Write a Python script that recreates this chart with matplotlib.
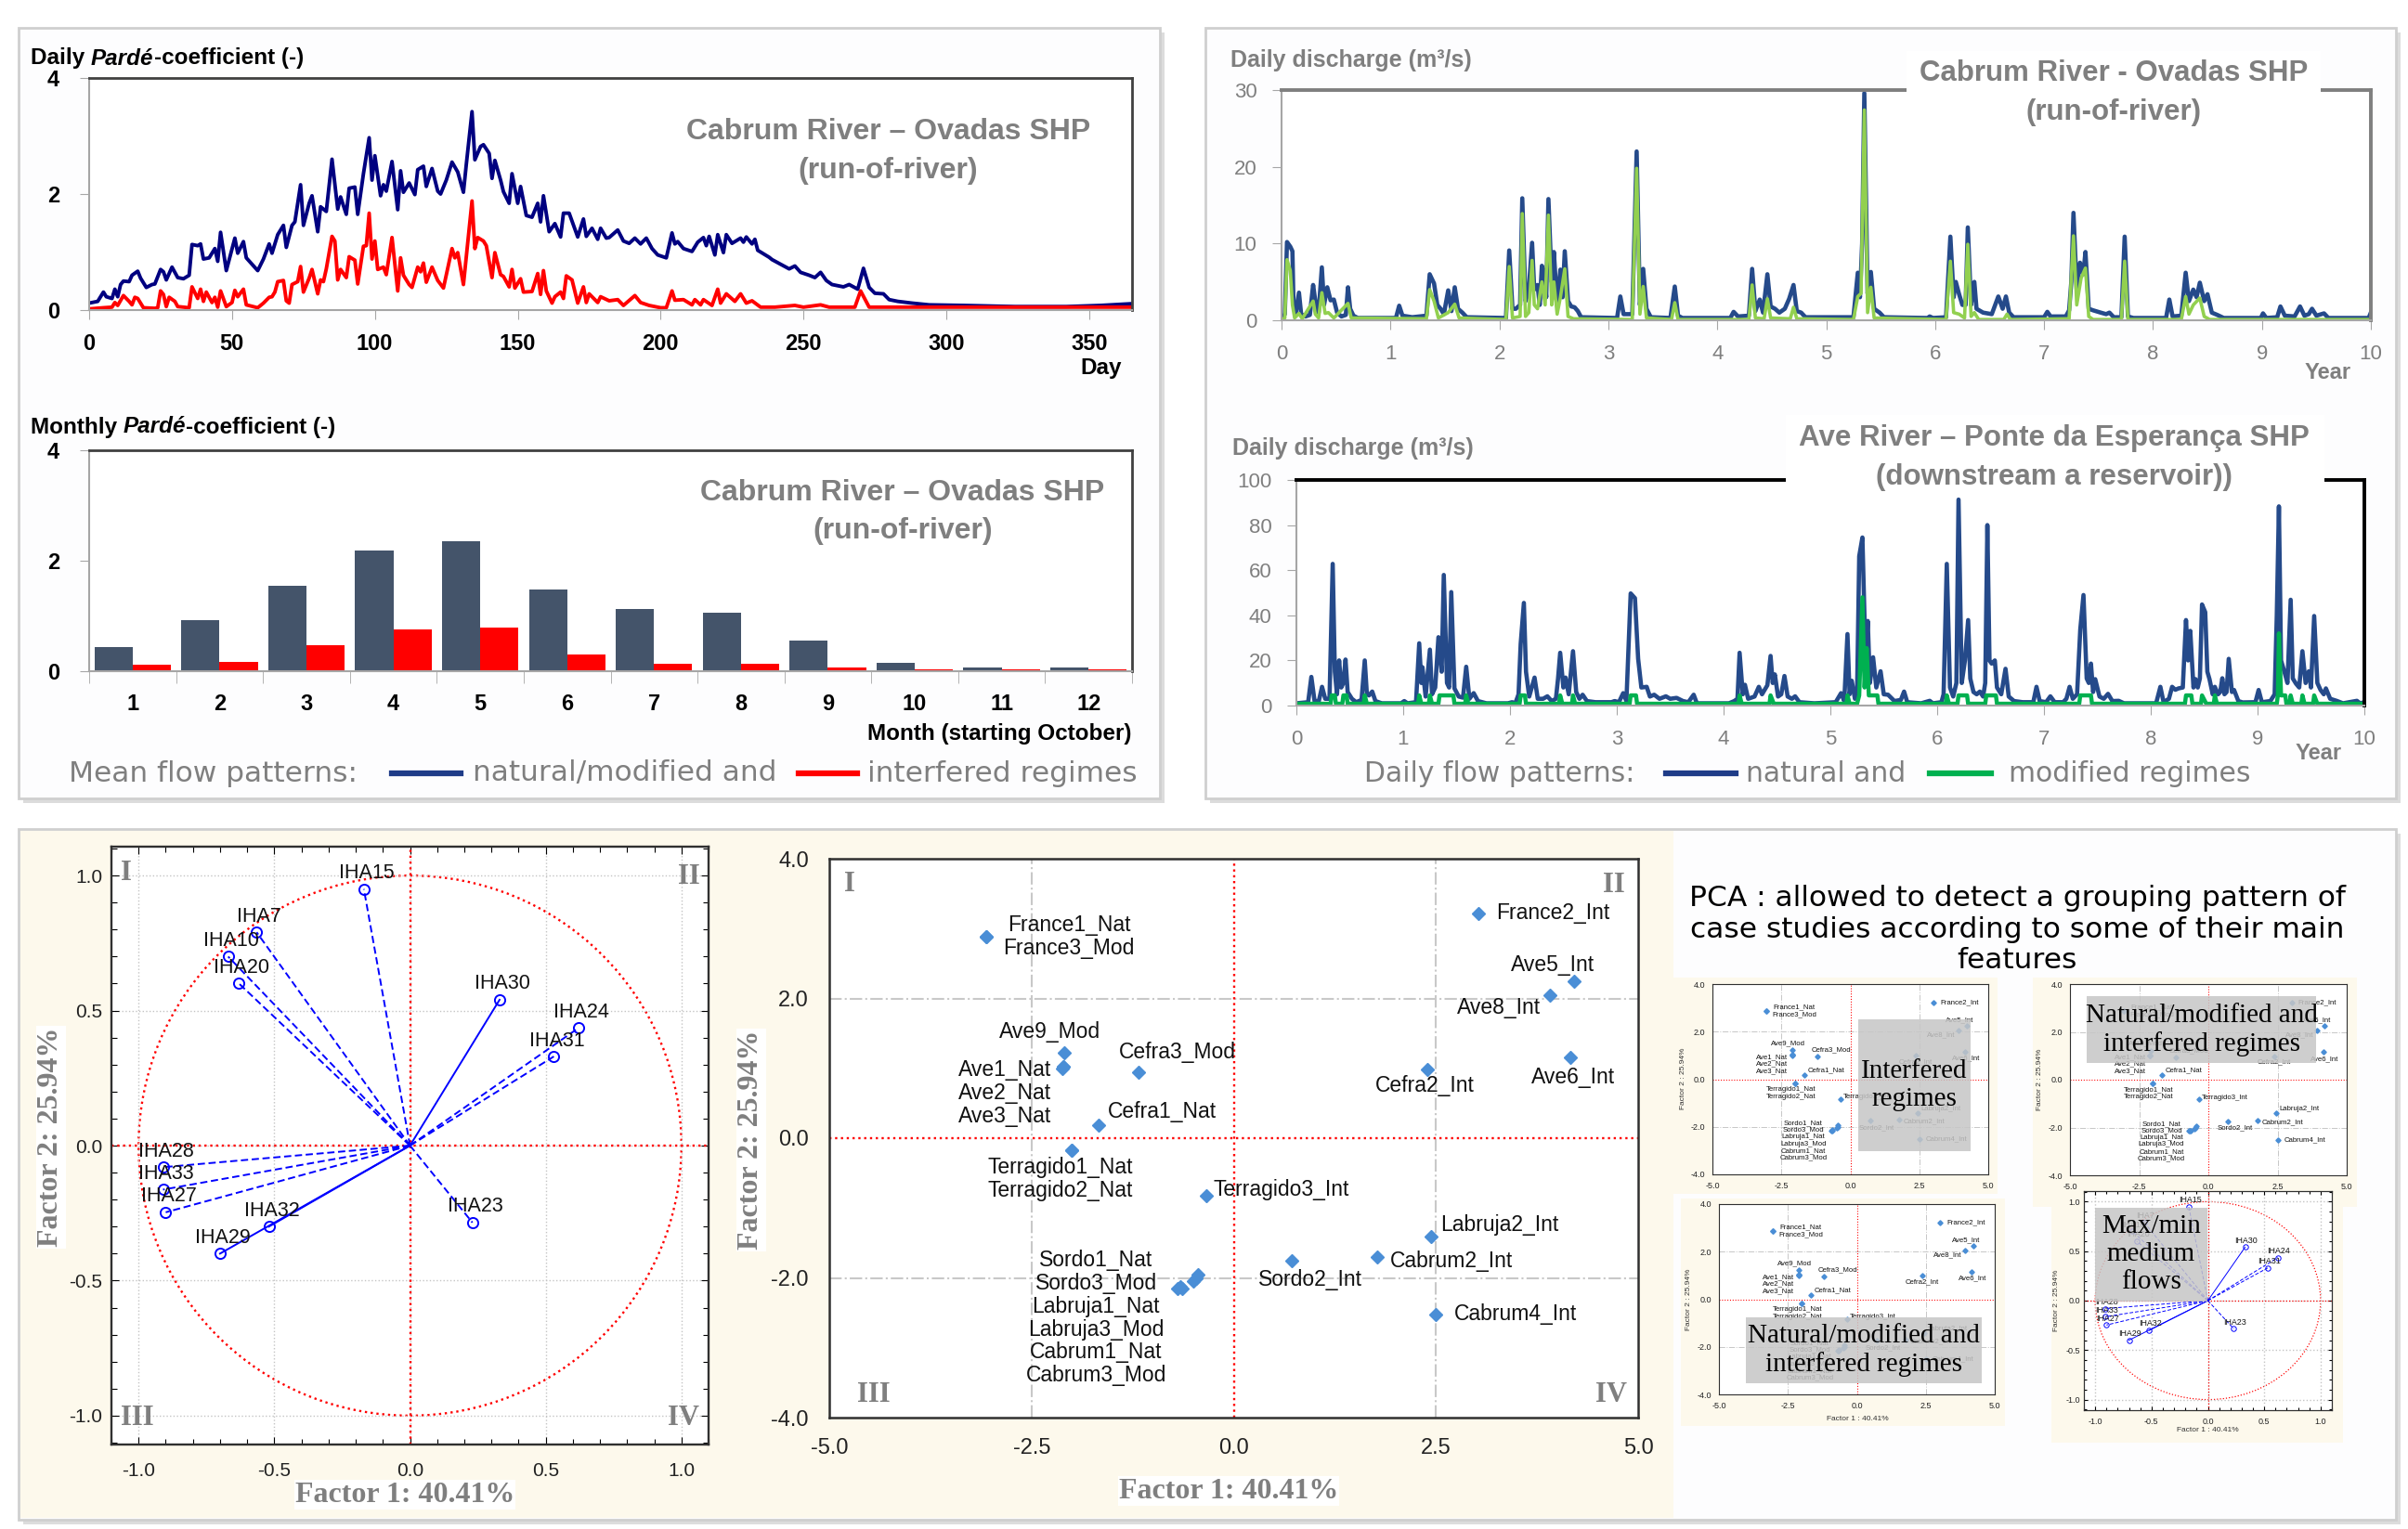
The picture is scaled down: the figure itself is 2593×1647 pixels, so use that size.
import matplotlib.pyplot as plt
from matplotlib.patches import Rectangle, Circle
from matplotlib.lines import Line2D
from matplotlib.ticker import FormatStrFormatter, MultipleLocator
import numpy as np

SANS = ['Liberation Sans', 'DejaVu Sans']
SERIF = ['Liberation Serif', 'DejaVu Serif']
WIDE = ['DejaVu Sans']
plt.rcParams['font.family'] = SANS

# ---------------- data ----------------
# daily Pardé coefficient, Cabrum River, (day, value)
parde_daily_nat = [
    (0, .12), (3, .15), (5, .31), (6, .23), (8, .20), (9, .36), (10, .23), (11, .44), (12, .50), (14, .49),
    (15, .60), (17, .67), (18, .55), (20, .39), (22, .44), (23, .45), (25, .70), (26, .66), (27, .52), (29, .74),
    (31, .56), (33, .54), (35, .60), (36, 1.13), (38, 1.11), (39, 1.14), (40, .88), (42, .90), (44, 1.06), (45, .84),
    (46, 1.34), (48, .68), (51, 1.24), (52, .98), (54, 1.18), (55, .90), (57, .79), (59, .68), (61, .88), (63, 1.14),
    (64, .98), (66, 1.30), (68, 1.46), (69, 1.08), (71, 1.46), (72, 1.52), (74, 2.16), (75, 1.46), (77, 1.84), (78, 1.97),
    (80, 1.35), (81, 1.78), (83, 1.70), (85, 2.60), (87, 1.74), (88, 1.95), (90, 1.65), (91, 2.10), (93, 2.12), (94, 1.65),
    (96, 2.35), (98, 2.97), (99, 2.24), (100, 2.66), (102, 1.97), (103, 2.16), (104, 2.05), (106, 2.56), (108, 1.73), (109, 2.40),
    (110, 2.03), (112, 2.19), (114, 1.99), (115, 2.42), (117, 2.48), (118, 2.13), (120, 2.44), (122, 2.05), (123, 2.00), (125, 2.24),
    (127, 2.55), (129, 2.38), (131, 2.03), (132, 2.51), (134, 3.42), (135, 2.59), (137, 2.82), (138, 2.85), (140, 2.70), (141, 2.27),
    (142, 2.58), (144, 2.24), (145, 2.04), (147, 1.84), (148, 2.35), (150, 1.84), (151, 2.13), (153, 1.63), (155, 1.60), (157, 1.84),
    (158, 1.52), (159, 1.97), (161, 1.35), (163, 1.49), (165, 1.26), (166, 1.67), (168, 1.67), (171, 1.26), (173, 1.57), (174, 1.27),
    (176, 1.41), (178, 1.22), (179, 1.41), (181, 1.24), (182, 1.25), (185, 1.38), (187, 1.19), (189, 1.15), (191, 1.24), (193, 1.14),
    (195, 1.24), (197, 1.06), (199, .95), (202, .90), (204, 1.33), (205, 1.14), (206, 1.18), (208, 1.06), (211, 1.01), (213, 1.17),
    (215, 1.25), (216, 1.11), (217, 1.27), (219, .95), (220, 1.30), (222, .99), (223, 1.30), (225, 1.15), (228, 1.24), (229, 1.17),
    (230, 1.26), (232, 1.14), (233, 1.22), (234, 1.03), (238, .91), (239, .87), (242, .79), (245, .71), (247, .76), (249, .65),
    (252, .60), (254, .56), (256, .65), (258, .51), (260, .44), (264, .40), (266, .44), (269, .36), (271, .72), (273, .39),
    (275, .29), (278, .28), (280, .18), (283, .15), (288, .12), (294, .09), (306, .08), (324, .06), (342, .06), (354, .08),
    (365, .11)]
parde_daily_int = [
    (0, .02), (5, .04), (8, .05), (9, .13), (10, .08), (12, .25), (14, .15), (15, .09), (16, .22), (17, .20),
    (19, .04), (23, .03), (24, .04), (25, .33), (26, .27), (27, .06), (28, .22), (30, .15), (31, .06), (35, .04),
    (36, .40), (38, .20), (39, .36), (40, .15), (41, .31), (43, .13), (44, .22), (45, .05), (46, .33), (48, .06),
    (50, .13), (51, .34), (52, .23), (54, .36), (55, .09), (59, .04), (61, .12), (63, .22), (64, .23), (65, .31),
    (66, .49), (68, .51), (69, .16), (70, .12), (71, .44), (73, .49), (74, .75), (75, .31), (77, .55), (78, .70),
    (80, .28), (81, .52), (82, .49), (83, .71), (85, 1.27), (86, 1.19), (87, .52), (88, .70), (90, .56), (91, .92),
    (93, .86), (94, .45), (96, 1.10), (97, 1.11), (98, 1.67), (99, .88), (100, 1.19), (101, .70), (103, .74), (104, .61),
    (106, 1.25), (108, .33), (109, .90), (110, .60), (112, .44), (113, .39), (115, .74), (116, .66), (117, .81), (118, .48),
    (120, .74), (122, .51), (124, .38), (127, 1.06), (128, .90), (129, .99), (131, .44), (132, .92), (134, 1.88), (135, 1.06),
    (136, 1.25), (138, 1.19), (139, 1.11), (141, .56), (142, .99), (144, .61), (145, .58), (147, .40), (148, .70), (149, .38),
    (151, .54), (152, .31), (155, .32), (157, .63), (158, .27), (159, .68), (160, .33), (162, .12), (163, .23), (165, .31),
    (166, .20), (167, .59), (169, .52), (171, .12), (173, .40), (174, .13), (175, .28), (178, .13), (179, .23), (182, .16),
    (185, .18), (187, .08), (191, .25), (193, .13), (196, .08), (200, .04), (202, .04), (204, .33), (205, .17), (208, .18),
    (211, .09), (212, .18), (214, .09), (215, .18), (218, .08), (220, .36), (221, .12), (223, .28), (226, .15), (228, .28),
    (230, .12), (232, .16), (235, .05), (240, .05), (247, .08), (250, .05), (256, .09), (259, .05), (268, .05), (270, .33),
    (273, .05), (288, .05), (365, .05)]

months = [1, 2, 3, 4, 5, 6, 7, 8, 9, 10, 11, 12]
parde_month_nat = [0.43, 0.92, 1.54, 2.19, 2.35, 1.48, 1.13, 1.06, 0.55, 0.15, 0.07, 0.07]
parde_month_int = [0.11, 0.17, 0.47, 0.76, 0.79, 0.31, 0.14, 0.13, 0.07, 0.03, 0.03, 0.03]

# daily discharge (year, m3/s)
cabrum_nat = [
    (0.00, .3), (0.03, .8), (0.05, 10.2), (0.08, 9.6), (0.10, 9.0), (0.11, 2.0), (0.13, .9), (0.16, 3.6), (0.18, .8), (0.22, .5),
    (0.26, .7), (0.29, 4.6), (0.31, 2.5), (0.34, 1.0), (0.37, 6.9), (0.39, 2.0), (0.42, 4.3), (0.45, 2.6), (0.48, 2.7), (0.51, 1.0),
    (0.55, .5), (0.59, .7), (0.61, 4.3), (0.63, 1.5), (0.66, .6), (0.70, .3), (1.05, .3), (1.08, 1.9), (1.11, .6), (1.20, .4),
    (1.33, .6), (1.36, 6.0), (1.40, 4.8), (1.43, 2.0), (1.46, 1.5), (1.49, .8), (1.53, 3.9), (1.56, 1.2), (1.59, 4.3), (1.62, 1.5),
    (1.66, 1.0), (1.70, .4), (2.06, .3), (2.09, 9.1), (2.12, 1.5), (2.15, 1.5), (2.19, 2.0), (2.21, 15.9), (2.24, 2.5), (2.27, 4.0),
    (2.30, 10.1), (2.32, 4.0), (2.35, 4.6), (2.37, 2.0), (2.39, 7.1), (2.41, 6.0), (2.43, 3.0), (2.45, 15.8), (2.48, 5.0), (2.50, 8.9),
    (2.53, 2.0), (2.56, 6.6), (2.58, 3.0), (2.60, 9.0), (2.63, 2.5), (2.66, 1.8), (2.69, 1.7), (2.72, 1.2), (2.75, .4), (3.08, .3),
    (3.11, 3.1), (3.14, .8), (3.22, .8), (3.26, 22.0), (3.29, 2.0), (3.32, 6.7), (3.35, 1.5), (3.39, .4), (3.57, .3), (3.61, 4.4),
    (3.64, .6), (3.68, .3), (4.12, .3), (4.15, 1.1), (4.19, .5), (4.29, .6), (4.32, 6.7), (4.35, 1.2), (4.39, 2.7), (4.42, 1.0),
    (4.46, 6.0), (4.49, 1.8), (4.53, 1.5), (4.57, 1.0), (4.62, 1.5), (4.66, 2.8), (4.70, 4.6), (4.73, 1.2), (4.77, 1.0), (4.81, .4),
    (5.25, .4), (5.29, 6.2), (5.31, 3.0), (5.33, 10.0), (5.35, 29.6), (5.38, 3.5), (5.41, 6.3), (5.44, 1.5), (5.49, 1.0), (5.53, .4),
    (5.93, .3), (5.95, .5), (5.98, .3), (6.10, .4), (6.14, 10.9), (6.17, 3.0), (6.19, 5.0), (6.22, 3.4), (6.25, 2.0), (6.28, 2.0),
    (6.30, 12.1), (6.33, 2.0), (6.36, 5.0), (6.38, 1.5), (6.44, 1.0), (6.52, .8), (6.58, 3.1), (6.62, 1.5), (6.65, 3.1), (6.68, 1.0),
    (6.72, .4), (7.00, .4), (7.03, 1.1), (7.06, .5), (7.20, .5), (7.23, 1.3), (7.25, 5.0), (7.27, 14.0), (7.30, 4.0), (7.33, 7.5),
    (7.36, 6.0), (7.38, 8.9), (7.41, 1.5), (7.45, 1.3), (7.52, 1.0), (7.57, .8), (7.60, 1.0), (7.64, .4), (7.71, .4), (7.74, 10.9),
    (7.77, .5), (7.82, .3), (8.12, .3), (8.15, 2.7), (8.18, .5), (8.26, .6), (8.30, 6.2), (8.33, 2.5), (8.37, 4.0), (8.40, 3.0),
    (8.43, 4.9), (8.47, 2.5), (8.50, 3.4), (8.54, 1.0), (8.59, .7), (8.65, .3), (8.99, .3), (9.01, .9), (9.04, .3), (9.14, .4),
    (9.17, 1.8), (9.21, .6), (9.30, .5), (9.35, 1.8), (9.39, .6), (9.43, .8), (9.46, 1.5), (9.50, .6), (9.57, .9), (9.61, .3),
    (9.98, .3), (10.0, 1.0)]
cabrum_mod = [
    (0.00, .1), (0.03, .3), (0.05, 7.9), (0.08, 6.5), (0.10, 2.0), (0.12, .3), (0.16, .9), (0.19, .2), (0.29, 2.5), (0.31, .8),
    (0.34, .3), (0.37, 3.6), (0.40, .9), (0.43, 1.0), (0.48, .3), (0.61, 2.2), (0.64, .3), (1.33, .2), (1.36, 4.0), (1.40, 2.5),
    (1.44, .3), (1.53, 1.0), (1.59, 2.1), (1.63, .3), (2.06, .1), (2.09, 7.0), (2.12, .3), (2.19, .5), (2.21, 13.9), (2.24, .5),
    (2.27, 1.0), (2.30, 7.8), (2.32, 2.0), (2.35, 1.5), (2.39, 5.0), (2.42, 2.0), (2.45, 13.7), (2.48, 2.0), (2.50, 5.0), (2.53, .8),
    (2.56, 3.0), (2.60, 6.7), (2.63, .5), (2.68, .2), (3.22, .1), (3.26, 19.8), (3.29, .8), (3.32, 4.4), (3.35, .3), (3.58, .1),
    (3.61, 2.3), (3.64, .1), (4.29, .1), (4.32, 4.6), (4.35, .3), (4.43, .2), (4.46, 2.8), (4.49, .3), (4.67, .2), (4.70, 1.7),
    (4.73, .2), (5.25, .1), (5.29, 3.1), (5.32, 3.5), (5.35, 27.4), (5.38, 1.0), (5.41, 4.3), (5.44, .3), (6.10, .1), (6.14, 7.7),
    (6.17, 1.0), (6.22, .8), (6.27, .3), (6.30, 9.9), (6.33, .5), (6.36, 1.0), (6.40, .1), (6.63, .1), (6.66, .8), (6.69, .1),
    (7.23, .2), (7.27, 11.0), (7.30, 2.0), (7.34, 5.5), (7.38, 6.8), (7.41, .5), (7.45, .1), (7.71, .1), (7.74, 7.7), (7.77, .1),
    (8.26, .1), (8.30, 3.1), (8.33, .8), (8.37, 2.0), (8.43, 2.9), (8.47, .5), (8.52, .1), (10.0, .1)]
ave_nat = [
    (0.00, 1.0), (0.11, 1.5), (0.14, 12.7), (0.17, 2.0), (0.21, 2.0), (0.24, 8.3), (0.27, 3.0), (0.31, 3.0), (0.34, 62.8), (0.36, 15.0),
    (0.38, 5.0), (0.40, 20.0), (0.42, 8.0), (0.44, 10.0), (0.46, 20.4), (0.48, 6.0), (0.52, 3.0), (0.56, 1.5), (0.61, 2.5), (0.64, 20.0),
    (0.66, 5.0), (0.68, 4.5), (0.71, 6.2), (0.74, 2.0), (0.80, 1.0), (0.98, 1.0), (1.01, 2.0), (1.04, 1.0), (1.12, 1.5), (1.15, 27.6),
    (1.17, 10.0), (1.18, 17.0), (1.21, 4.0), (1.25, 24.8), (1.27, 5.0), (1.30, 8.0), (1.33, 30.3), (1.36, 15.0), (1.38, 57.9), (1.41, 10.0),
    (1.43, 8.0), (1.45, 50.3), (1.48, 7.6), (1.52, 4.0), (1.56, 3.5), (1.59, 17.2), (1.62, 3.0), (1.66, 5.5), (1.70, 2.0), (1.78, 1.0),
    (1.98, 1.0), (2.02, 1.5), (2.05, 1.0), (2.08, 5.0), (2.10, 27.3), (2.13, 45.5), (2.15, 15.0), (2.18, 4.0), (2.23, 12.4), (2.26, 3.0),
    (2.31, 3.0), (2.35, 4.1), (2.39, 2.0), (2.43, 3.0), (2.45, 12.0), (2.47, 23.4), (2.50, 8.0), (2.52, 12.4), (2.55, 5.0), (2.59, 24.1),
    (2.62, 6.0), (2.65, 3.0), (2.68, 4.8), (2.72, 2.0), (2.80, 1.5), (2.95, 1.5), (2.98, 2.0), (3.02, 1.5), (3.06, 5.5), (3.09, 2.0),
    (3.13, 49.7), (3.17, 47.6), (3.20, 20.7), (3.23, 8.0), (3.28, 8.3), (3.31, 4.0), (3.35, 4.8), (3.40, 3.0), (3.46, 4.1), (3.50, 3.0),
    (3.56, 3.4), (3.62, 2.0), (3.67, 1.5), (3.72, 4.8), (3.75, 1.0), (4.05, 1.0), (4.10, 2.0), (4.13, 3.0), (4.15, 23.4), (4.18, 5.0),
    (4.20, 9.2), (4.23, 3.0), (4.29, 4.0), (4.33, 8.3), (4.36, 5.0), (4.41, 9.0), (4.44, 22.0), (4.46, 10.0), (4.48, 13.8), (4.51, 4.0),
    (4.54, 5.0), (4.57, 13.1), (4.60, 4.0), (4.64, 3.0), (4.67, 4.1), (4.71, 1.5), (4.85, 1.0), (5.05, 1.5), (5.10, 5.5), (5.13, 2.0),
    (5.16, 31.7), (5.18, 5.0), (5.20, 11.0), (5.23, 3.0), (5.25, 6.0), (5.27, 66.2), (5.30, 74.5), (5.33, 20.0), (5.35, 37.5), (5.37, 10.0),
    (5.40, 21.4), (5.43, 8.0), (5.47, 15.2), (5.50, 5.0), (5.54, 4.8), (5.60, 2.0), (5.66, 2.5), (5.69, 6.2), (5.72, 1.5), (5.85, 1.0),
    (5.93, 2.1), (5.96, 1.0), (6.04, 1.5), (6.06, 5.0), (6.09, 62.8), (6.12, 8.0), (6.15, 4.0), (6.18, 10.0), (6.20, 91.3), (6.23, 10.0),
    (6.26, 20.0), (6.29, 37.9), (6.31, 12.0), (6.34, 6.0), (6.37, 5.0), (6.40, 6.2), (6.43, 4.0), (6.45, 10.0), (6.47, 80.0), (6.49, 20.0),
    (6.51, 18.6), (6.54, 20.0), (6.56, 8.0), (6.60, 5.0), (6.64, 16.3), (6.67, 4.0), (6.72, 2.0), (6.80, 1.5), (6.90, 1.5), (6.93, 8.3),
    (6.96, 2.0), (7.02, 1.5), (7.06, 4.1), (7.10, 1.5), (7.18, 1.5), (7.21, 3.0), (7.24, 8.3), (7.27, 3.0), (7.31, 5.0), (7.34, 33.8),
    (7.37, 49.0), (7.40, 12.0), (7.42, 10.0), (7.44, 18.6), (7.46, 6.0), (7.48, 11.7), (7.52, 4.0), (7.56, 3.0), (7.60, 5.2), (7.64, 2.0),
    (7.70, 2.1), (7.75, 1.0), (8.05, 1.0), (8.09, 8.3), (8.12, 1.5), (8.17, 3.0), (8.20, 8.3), (8.23, 7.0), (8.26, 7.6), (8.30, 8.0),
    (8.33, 37.9), (8.35, 20.0), (8.37, 33.1), (8.40, 8.0), (8.42, 11.7), (8.44, 8.0), (8.46, 12.0), (8.48, 44.8), (8.51, 41.4), (8.53, 15.0),
    (8.55, 11.7), (8.58, 5.0), (8.60, 8.3), (8.63, 5.0), (8.65, 6.0), (8.67, 12.1), (8.69, 5.0), (8.71, 6.0), (8.73, 20.7), (8.76, 6.0),
    (8.78, 6.9), (8.82, 2.0), (8.86, 1.4), (8.98, 1.5), (9.01, 6.9), (9.04, 1.5), (9.12, 2.0), (9.16, 5.0), (9.18, 40.0), (9.20, 88.3),
    (9.22, 20.0), (9.25, 15.2), (9.28, 10.0), (9.31, 46.9), (9.33, 12.0), (9.36, 9.7), (9.39, 8.0), (9.42, 24.1), (9.45, 10.0), (9.48, 15.2),
    (9.50, 8.0), (9.53, 39.7), (9.56, 10.0), (9.59, 6.9), (9.62, 5.0), (9.64, 7.6), (9.68, 3.0), (9.74, 2.1), (9.80, 1.0), (9.93, 2.1),
    (9.96, 1.0), (10.0, 1.5)]
ave_mod = [
    (0.00, .8), (0.32, .8), (0.33, 4.5), (0.36, 4.5), (0.37, .8), (0.43, .8), (0.44, 4.5), (0.47, 4.5), (0.48, .8), (0.63, .8),
    (0.64, 4.5), (0.66, .8), (1.14, .8), (1.15, 4.5), (1.17, .8), (1.24, .8), (1.25, 4.5), (1.27, .8), (1.33, .8), (1.34, 4.5),
    (1.47, 4.5), (1.48, .8), (1.58, .8), (1.59, 4.5), (1.61, .8), (2.09, .8), (2.10, 4.5), (2.14, 4.5), (2.15, .8), (2.46, .8),
    (2.47, 4.5), (2.49, .8), (2.58, .8), (2.59, 4.5), (2.61, .8), (3.12, .8), (3.13, 4.5), (3.18, 4.5), (3.19, .8), (4.14, .8),
    (4.15, 4.5), (4.17, .8), (4.43, .8), (4.44, 4.5), (4.47, .8), (5.15, .8), (5.16, 4.5), (5.18, .8), (5.25, .8), (5.27, 4.5),
    (5.30, 48.0), (5.32, 8.0), (5.34, 25.5), (5.36, 4.5), (5.44, 4.5), (5.45, .8), (6.08, .8), (6.09, 4.5), (6.11, .8), (6.19, .8),
    (6.20, 4.5), (6.28, 4.5), (6.29, .8), (6.45, .8), (6.46, 4.5), (6.55, 4.5), (6.56, .8), (7.33, .8), (7.34, 4.5), (7.44, 4.5),
    (7.45, .8), (8.32, .8), (8.33, 4.5), (8.38, 4.5), (8.39, .8), (8.47, .8), (8.48, 4.5), (8.52, .8), (8.59, .8), (8.60, 4.5),
    (8.62, .8), (9.18, .8), (9.19, 4.5), (9.20, 32.0), (9.22, 4.5), (9.26, 4.5), (9.27, .8), (9.30, .8), (9.31, 4.5), (9.33, .8),
    (9.41, .8), (9.42, 4.5), (9.44, .8), (9.52, .8), (9.53, 4.5), (9.56, .8), (10.0, .8)]

# PCA loadings
iha_names = ['IHA15', 'IHA7', 'IHA10', 'IHA20', 'IHA30', 'IHA24', 'IHA31',
             'IHA28', 'IHA33', 'IHA27', 'IHA32', 'IHA29', 'IHA23']
load_f1 = [-0.17, -0.565, -0.67, -0.63, 0.33, 0.62, 0.53, -0.91, -0.91, -0.90, -0.52, -0.70, 0.23]
load_f2 = [0.95, 0.79, 0.70, 0.60, 0.54, 0.435, 0.33, -0.08, -0.163, -0.247, -0.30, -0.40, -0.285]

# PCA scores of the case studies
case_names = ['France1_Nat', 'France3_Mod', 'France2_Int', 'Ave5_Int', 'Ave8_Int', 'Ave6_Int', 'Cefra2_Int',
              'Ave9_Mod', 'Ave1_Nat', 'Ave2_Nat', 'Ave3_Nat', 'Cefra3_Mod', 'Cefra1_Nat', 'Terragido1_Nat',
              'Terragido2_Nat', 'Terragido3_Int', 'Labruja2_Int', 'Cabrum2_Int', 'Sordo2_Int', 'Cabrum4_Int',
              'Sordo1_Nat', 'Sordo3_Mod', 'Labruja1_Nat', 'Labruja3_Mod', 'Cabrum1_Nat', 'Cabrum3_Mod']
score_f1 = [-3.06, -3.06, 3.03, 4.21, 3.91, 4.16, 2.39, -2.09, -2.11, -2.11, -2.12, -1.18, -1.67, -2.00,
            -2.00, -0.34, 2.44, 1.77, 0.72, 2.50, -0.44, -0.50, -0.64, -0.70, -0.47, -0.66]
score_f2 = [2.88, 2.88, 3.22, 2.24, 2.04, 1.15, 0.985, 1.22, 1.02, 1.02, 1.00, 0.95, 0.18, -0.17,
            -0.17, -0.82, -1.41, -1.70, -1.75, -2.52, -1.95, -2.04, -2.15, -2.15, -2.00, -2.12]

# ---------------- figure ----------------
W, H = 2593, 1647
fig = plt.figure(figsize=(W / 100, H / 100), dpi=100)
fig.patch.set_facecolor('white')


def box(l, t, r, b):
    return [l / W, 1 - b / H, (r - l) / W, (b - t) / H]


def ftext(x, y, s, **kw):
    return fig.text(x / W, 1 - y / H, s, **kw)


def frect(l, t, r, b, z=-5, **kw):
    fig.add_artist(Rectangle((l / W, 1 - b / H), (r - l) / W, (b - t) / H,
                             transform=fig.transFigure, zorder=z, **kw))


def fline(x1, x2, y, **kw):
    fig.add_artist(Line2D([x1 / W, x2 / W], [1 - y / H, 1 - y / H], transform=fig.transFigure, **kw))


# panel frames
for l, t, r, b in [(20, 30, 1249, 860), (1298, 30, 2580, 860), (20, 893, 2580, 1637)]:
    frect(l + 5, t + 5, r + 5, b + 5, z=-6, fc='#dcdcdc', ec='none')
    frect(l, t, r, b, fc='#fdfdfe', ec='#cfcfcf', lw=2)
frect(22, 895, 1802, 1635, z=-4, fc='#fdf9ec', ec='none')

GRAY = '#7f7f7f'
NAVY = '#000080'
RED = '#ff0000'
QBLUE = '#254a8a'


def rich_label(ax, x, y, parts, size, color):
    t = ftext(x, y, parts[0][0], fontsize=size, color=color, fontweight='bold',
              fontstyle=parts[0][1], ha='left', va='center')
    for s, st in parts[1:]:
        t = ax.annotate(s, xy=(1, 0), xycoords=t, ha='left', va='bottom', fontsize=size,
                        color=color, fontweight='bold', fontstyle=st, annotation_clip=False)


def style_top_left(ax):
    for k in ('top', 'right'):
        ax.spines[k].set_color('#404040')
        ax.spines[k].set_linewidth(2)
    for k in ('left', 'bottom'):
        ax.spines[k].set_color('#a6a6a6')
        ax.spines[k].set_linewidth(1.5)
    ax.set_facecolor('white')


TITLE = dict(ha='center', va='center', fontsize=23, fontweight='bold', color=GRAY, linespacing=1.5)

# --- daily Pardé coefficient ---
ax1 = fig.add_axes(box(96, 84, 1219, 334))
d_nat, v_nat = zip(*parde_daily_nat)
d_int, v_int = zip(*parde_daily_int)
ax1.plot(d_nat, v_nat, color=NAVY, lw=2.8, solid_joinstyle='round')
ax1.plot(d_int, v_int, color=RED, lw=2.8, solid_joinstyle='round')
ax1.set_xlim(0, 365)
ax1.set_ylim(0, 4)
ax1.set_xticks(range(0, 351, 50), labels=[str(v) for v in range(0, 351, 50)], fontweight='bold', fontsize=17)
ax1.set_yticks([0, 2, 4], labels=['0', '2', '4'], fontweight='bold', fontsize=17)
ax1.tick_params(axis='x', length=7, color='#a6a6a6', pad=11)
ax1.tick_params(axis='y', length=7, color='#a6a6a6', pad=16)
style_top_left(ax1)
rich_label(ax1, 33, 63, [('Daily ', 'normal'), ('Pardé', 'italic'), ('-coefficient (-)', 'normal')], 17.5, 'black')
ftext(1186, 397, 'Day', fontsize=17.5, fontweight='bold', ha='center', va='center')
ax1.text(0.766, 0.684, 'Cabrum River \u2013 Ovadas SHP\n(run-of-river)', transform=ax1.transAxes, **TITLE)

# --- monthly Pardé coefficient ---
ax2 = fig.add_axes(box(96, 485, 1219, 723))
mx = np.array(months)
ax2.bar(mx - 0.22, parde_month_nat, width=0.44, color='#44546a')
ax2.bar(mx + 0.22, parde_month_int, width=0.44, color=RED)
ax2.set_xlim(0.5, 12.5)
ax2.set_ylim(0, 4)
ax2.set_xticks(months, labels=[str(m) for m in months], fontweight='bold', fontsize=17)
ax2.set_xticks(np.arange(0.5, 12.6, 1), minor=True)
ax2.tick_params(axis='x', which='major', length=0, pad=17)
ax2.tick_params(axis='x', which='minor', length=9, color='#a6a6a6')
ax2.set_yticks([0, 2, 4], labels=['0', '2', '4'], fontweight='bold', fontsize=17)
ax2.tick_params(axis='y', length=7, color='#a6a6a6', pad=16)
style_top_left(ax2)
rich_label(ax2, 33, 460, [('Monthly ', 'normal'), ('Pardé', 'italic'), ('-coefficient (-)', 'normal')], 17.5, 'black')
ftext(1219, 790, 'Month (starting October)', fontsize=17.5, fontweight='bold', ha='right', va='center')
ax2.text(0.78, 0.72, 'Cabrum River \u2013 Ovadas SHP\n(run-of-river)', transform=ax2.transAxes, **TITLE)

# legend row, left
LEG = dict(fontsize=22.5, color=GRAY, family=WIDE, va='center')
ftext(74, 833, 'Mean flow patterns:', **LEG)
fline(422, 496, 833, color='#1f3c88', lw=4.5)
ftext(509, 833, 'natural/modified and', **LEG)
fline(860, 923, 833, color=RED, lw=4.5)
ftext(934, 833, 'interfered regimes', **LEG)


def style_q(ax, edge):
    for k in ('top', 'right'):
        ax.spines[k].set_color(edge)
        ax.spines[k].set_linewidth(2.8)
    for k in ('left', 'bottom'):
        ax.spines[k].set_color('#a6a6a6')
        ax.spines[k].set_linewidth(1.5)
    ax.tick_params(length=7, color='#a6a6a6', labelsize=16, labelcolor=GRAY)
    ax.tick_params(axis='x', pad=12)
    ax.tick_params(axis='y', pad=12)


# --- Cabrum daily discharge ---
ax3 = fig.add_axes(box(1380, 97, 2553, 345))
t, q = zip(*cabrum_nat)
ax3.plot(t, q, color=QBLUE, lw=3.3)
t, q = zip(*cabrum_mod)
ax3.plot(t, q, color='#92d050', lw=2.6)
ax3.set_xlim(0, 10)
ax3.set_ylim(0, 30)
ax3.set_xticks(range(0, 11))
ax3.set_yticks([0, 10, 20, 30])
style_q(ax3, '#7f7f7f')
ftext(1325, 65, 'Daily discharge (m\u00b3/s)', fontsize=18, fontweight='bold', color=GRAY, va='center')
ftext(2507, 402, 'Year', fontsize=17, fontweight='bold', color=GRAY, ha='center', va='center')
frect(2053, 55, 2499, 140, z=5, fc='white', ec='none')
ftext(2276, 100, 'Cabrum River - Ovadas SHP\n(run-of-river)', zorder=6, **dict(TITLE, fontsize=22.5))

# --- Ave daily discharge ---
ax4 = fig.add_axes(box(1396, 517, 2546, 760))
t, q = zip(*ave_nat)
ax4.plot(t, q, color=QBLUE, lw=3.3)
t, q = zip(*ave_mod)
ax4.plot(t, q, color='#00b050', lw=3.2)
ax4.set_xlim(0, 10)
ax4.set_ylim(0, 100)
ax4.set_xticks(range(0, 11))
ax4.set_yticks(range(0, 101, 20))
style_q(ax4, 'black')
ftext(1327, 483, 'Daily discharge (m\u00b3/s)', fontsize=18, fontweight='bold', color=GRAY, va='center')
ftext(2497, 812, 'Year', fontsize=17, fontweight='bold', color=GRAY, ha='center', va='center')
frect(1923, 447, 2503, 533, z=5, fc='white', ec='none')
ftext(2212, 493, 'Ave River \u2013 Ponte da Esperan\u00e7a SHP\n(downstream a reservoir))', zorder=6,
      **dict(TITLE, fontsize=22.5))

# legend row, right
LEG_R = dict(LEG, fontsize=21.5)
ftext(1469, 833, 'Daily flow patterns:', **LEG_R)
fline(1794, 1869, 833, color='#1f3c88', lw=4.5)
ftext(1880, 833, 'natural and', **LEG_R)
fline(2078, 2144, 833, color='#00b050', lw=4.5)
ftext(2163, 833, 'modified regimes', **LEG_R)

# ---------------- PCA ----------------
SOLID_VARS = {'IHA30', 'IHA32', 'IHA29'}


def draw_loadings(ax, s, tick_size, quadrants=True):
    ax.set_facecolor('white')
    ax.set_xlim(-1.1, 1.1)
    ax.set_ylim(-1.107, 1.107)
    ax.set_xticks([-1, -0.5, 0, 0.5, 1])
    ax.set_yticks([-1, -0.5, 0, 0.5, 1])
    ax.xaxis.set_minor_locator(MultipleLocator(0.1))
    ax.yaxis.set_minor_locator(MultipleLocator(0.1))
    ax.xaxis.set_major_formatter(FormatStrFormatter('%.1f'))
    ax.yaxis.set_major_formatter(FormatStrFormatter('%.1f'))
    ax.tick_params(which='both', direction='in', top=True, right=True, labelsize=tick_size,
                   labelcolor='#222222', width=0.8)
    ax.tick_params(which='major', length=5 * s + 1)
    ax.tick_params(which='minor', length=3 * s + 1)
    ax.tick_params(axis='x', pad=14 * s)
    ax.tick_params(axis='y', pad=7 * s)
    ax.grid(True, color='#c4c4c4', ls=':', lw=1)
    for sp in ax.spines.values():
        sp.set_color('#303030')
        sp.set_linewidth(1.4 * s + 0.3)
    ax.add_patch(Circle((0, 0), 1, fill=False, ec='red', ls=':', lw=1.4 * s + 0.3))
    ax.axhline(0, color='red', ls=':', lw=1.4 * s + 0.3)
    ax.axvline(0, color='red', ls=':', lw=1.4 * s + 0.3)
    for name, a, b in zip(iha_names, load_f1, load_f2):
        ls = '-' if name in SOLID_VARS else '--'
        ax.plot([0, a], [0, b], color='blue', ls=ls, lw=1.2 * s + 0.2, dashes=(4, 2) if ls == '--' else (None, None))
        ax.plot(a, b, 'o', mfc='none', mec='blue', ms=7 * s + 1, mew=1.2 * s + 0.2)
        ax.annotate(name, (a, b), xytext=(3 * s, 17 * s), textcoords='offset pixels', ha='center',
                    va='center', fontsize=15.5 * s, color='#111111')
    if quadrants:
        qk = dict(transform=ax.transAxes, fontsize=22, fontweight='bold', color=GRAY, family=SERIF, va='center')
        ax.text(0.015, 0.955, 'I', ha='left', **qk)
        ax.text(0.985, 0.95, 'II', ha='right', **qk)
        ax.text(0.015, 0.045, 'III', ha='left', **qk)
        ax.text(0.985, 0.045, 'IV', ha='right', **qk)


# label groups for the scores: names, offset in pixels (dx, dy), alignment
SCORE_LABELS = [
    (['France1_Nat', 'France3_Mod'], 89, 0, 'center'),
    (['France2_Int'], 19, 0, 'left'),
    (['Ave5_Int'], -23, 18, 'center'),
    (['Ave8_Int'], -55, -13, 'center'),
    (['Ave6_Int'], 3, -21, 'center'),
    (['Cefra2_Int'], -2, -18, 'center'),
    (['Ave9_Mod'], -16, 23, 'center'),
    (['Ave1_Nat', 'Ave2_Nat', 'Ave3_Nat'], -13, -28, 'right'),
    (['Cefra3_Mod'], 42, 21, 'center'),
    (['Cefra1_Nat'], 10, 15, 'left'),
    (['Terragido1_Nat', 'Terragido2_Nat'], -13, -31, 'center'),
    (['Terragido3_Int'], 8, 6, 'left'),
    (['Labruja2_Int'], 10, 13, 'left'),
    (['Cabrum2_Int'], 14, -5, 'left'),
    (['Sordo2_Int'], 20, -21, 'center'),
    (['Cabrum4_Int'], 20, 0, 'left'),
    (['Sordo1_Nat', 'Sordo3_Mod', 'Labruja1_Nat', 'Labruja3_Mod', 'Cabrum1_Nat', 'Cabrum3_Mod'], -110, -47, 'center'),
]


def draw_scores(ax, s, tick_size, quadrants=True):
    ax.set_facecolor('white')
    ax.set_xlim(-5, 5)
    ax.set_ylim(-4, 4)
    ax.set_xticks([-5, -2.5, 0, 2.5, 5], labels=['-5.0', '-2.5', '0.0', '2.5', '5.0'])
    ax.set_yticks([-4, -2, 0, 2, 4], labels=['-4.0', '-2.0', '0.0', '2.0', '4.0'])
    ax.tick_params(length=0, labelsize=tick_size, labelcolor='#222222', pad=16 * s)
    for sp in ax.spines.values():
        sp.set_color('#303030')
        sp.set_linewidth(1.5 * s + 0.3)
    for v in (-2.5, 2.5):
        ax.axvline(v, color='#c8c8c8', ls='-.', lw=1.2 * s + 0.3)
    for v in (-2, 2):
        ax.axhline(v, color='#c8c8c8', ls='-.', lw=1.2 * s + 0.3)
    ax.axhline(0, color='red', ls=':', lw=1.4 * s + 0.3)
    ax.axvline(0, color='red', ls=':', lw=1.4 * s + 0.3)
    ax.plot(score_f1, score_f2, 'D', color='#4a8ed6', ms=6.5 * s + 0.5, ls='none', zorder=4)
    for names, dx, dy, ha in SCORE_LABELS:
        i = case_names.index(names[0])
        ax.annotate('\n'.join(names), (score_f1[i], score_f2[i]), xytext=(dx * s, dy * s),
                    textcoords='offset pixels', ha=ha, va='center', fontsize=16.5 * s,
                    color='#111111', linespacing=1.1, multialignment='center')
    if quadrants:
        qk = dict(transform=ax.transAxes, fontsize=22, fontweight='bold', color=GRAY, family=SERIF, va='center')
        ax.text(0.018, 0.955, 'I', ha='left', **qk)
        ax.text(0.984, 0.953, 'II', ha='right', **qk)
        ax.text(0.035, 0.04, 'III', ha='left', **qk)
        ax.text(0.986, 0.04, 'IV', ha='right', **qk)


FLAB = dict(fontsize=23, fontweight='bold', color=GRAY, family=SERIF, ha='center', va='center',
            bbox=dict(fc='white', ec='none', pad=1))

ax5 = fig.add_axes(box(120, 912, 763, 1556))
draw_loadings(ax5, 1.0, 15)
ftext(436, 1610, 'Factor 1: 40.41%', **FLAB)
ftext(55, 1225, 'Factor 2: 25.94%', rotation=90, **FLAB)

ax6 = fig.add_axes(box(893, 925, 1764, 1527))
draw_scores(ax6, 1.0, 17)
ftext(1323, 1606, 'Factor 1: 40.41%', **FLAB)
ftext(809, 1228, 'Factor 2: 25.94%', rotation=90, **FLAB)

# text and thumbnails
ftext(2172, 1001, 'PCA : allowed to detect a grouping pattern of\ncase studies according to some of their main\nfeatures',
      fontsize=22.5, family=WIDE, ha='center', va='center', linespacing=1.2, color='black')

for l, t, r, b in [(1802, 1053, 2151, 1286), (2189, 1053, 2538, 1300), (1810, 1291, 2159, 1536), (2209, 1283, 2523, 1554)]:
    frect(l, t, r, b, z=-3, fc='#fdf9ec', ec='none')

TLAB = dict(fontsize=6, color='#333333', ha='center', va='center')
OVER = dict(family=SERIF, fontsize=21, ha='center', va='center', color='black', linespacing=1.2, zorder=8)

thA = fig.add_axes(box(1844, 1060, 2141, 1265))
draw_scores(thA, 0.34, 6.5, quadrants=False)
thA.add_patch(Rectangle((0.27, -3.02), 4.08, 5.55, fc='#c6c6c6', ec='none', alpha=0.85, zorder=7))
thA.text(2.31, -0.25, 'Interfered\nregimes', **OVER)
ftext(1812, 1162, 'Factor 2 : 25.94%', rotation=90, **TLAB)

thB = fig.add_axes(box(2229, 1060, 2527, 1266))
draw_scores(thB, 0.34, 6.5, quadrants=False)
thB.add_patch(Rectangle((-4.39, 0.70), 8.29, 2.78, fc='#c6c6c6', ec='none', alpha=0.85, zorder=7))
thB.text(-0.245, 2.09, 'Natural/modified and\ninterfered regimes', **OVER)
ftext(2197, 1163, 'Factor 2 : 25.94%', rotation=90, **TLAB)

thC = fig.add_axes(box(1851, 1297, 2148, 1502))
draw_scores(thC, 0.34, 6.5, quadrants=False)
thC.add_patch(Rectangle((-4.01, -3.53), 8.53, 2.78, fc='#c6c6c6', ec='none', alpha=0.85, zorder=7))
thC.text(0.255, -2.14, 'Natural/modified and\ninterfered regimes', **OVER)
ftext(1819, 1400, 'Factor 2 : 25.94%', rotation=90, **TLAB)
ftext(2000, 1528, 'Factor 1 : 40.41%', **TLAB)

thD = fig.add_axes(box(2244, 1283, 2511, 1519))
draw_loadings(thD, 0.415, 6.5, quadrants=False)
thD.add_patch(Rectangle((-1.004, -0.005), 1.0, 0.945, fc='#c6c6c6', ec='none', alpha=0.85, zorder=7))
thD.text(-0.504, 0.4675, 'Max/min\nmedium\nflows', **OVER)
ftext(2215, 1401, 'Factor 2 : 25.94%', rotation=90, **TLAB)
ftext(2377, 1541, 'Factor 1 : 40.41%', **TLAB)

fig.savefig('out.png', dpi=100, facecolor='white')
